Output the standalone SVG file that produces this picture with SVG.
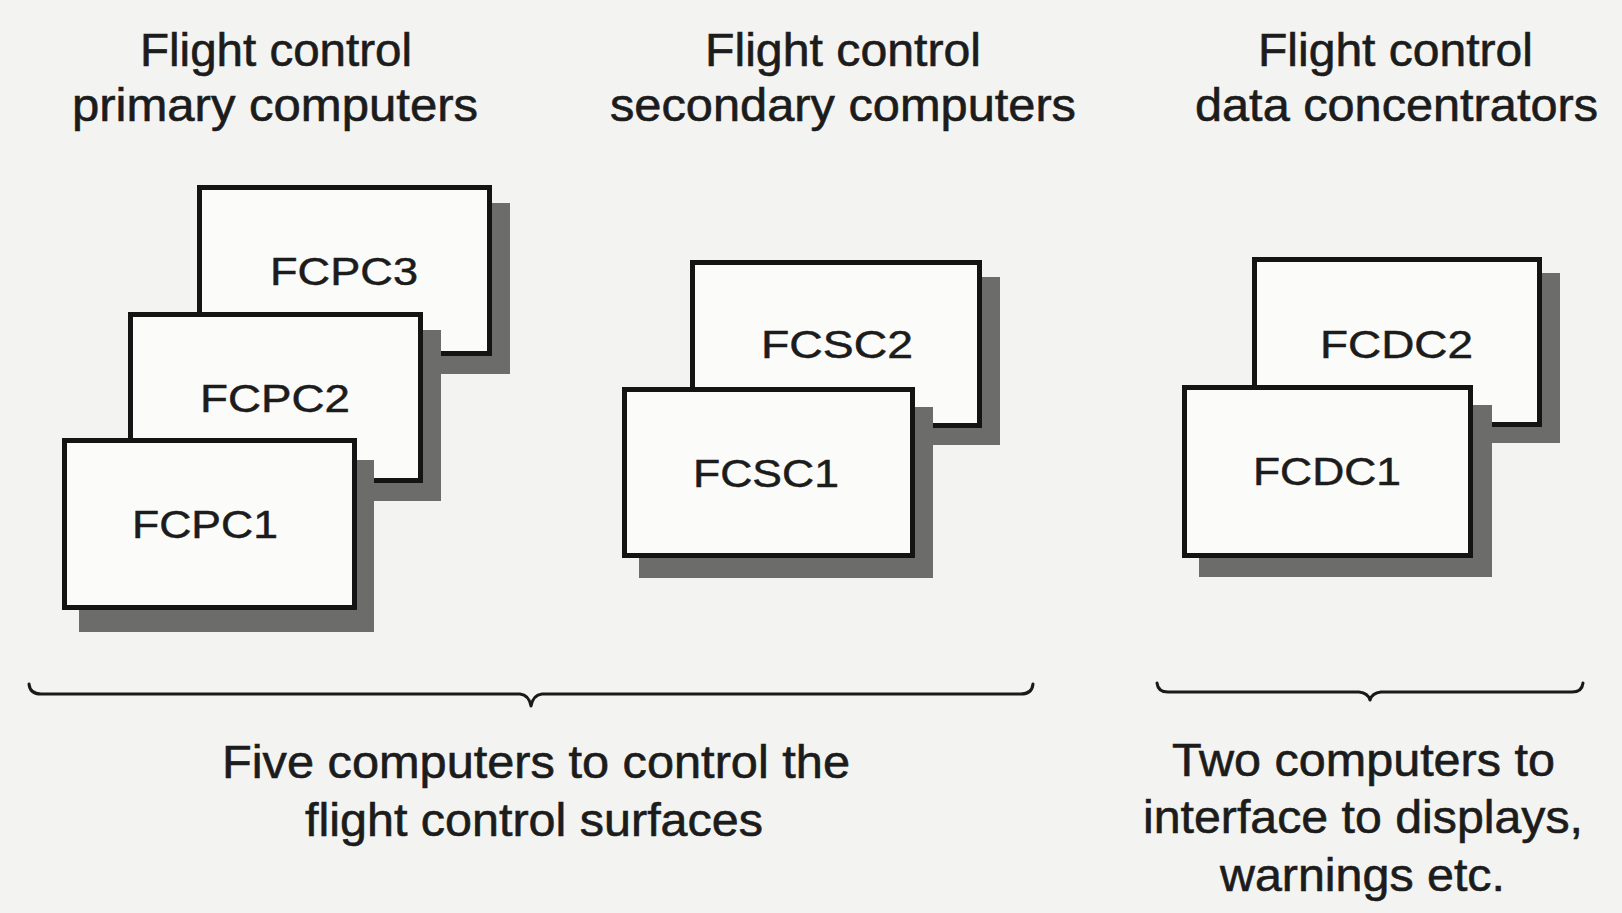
<svg xmlns="http://www.w3.org/2000/svg" width="1622" height="913" viewBox="0 0 1622 913">
<style>
.t{font-family:"Liberation Sans",Arial,sans-serif;fill:#1c1c1c;stroke:#1c1c1c;stroke-width:0.6;font-size:46px;text-anchor:start}
.b{font-family:"Liberation Sans",Arial,sans-serif;fill:#1c1c1c;stroke:#1c1c1c;stroke-width:0.5;font-size:39px}
.box{fill:#fbfbfa;stroke:#141414;stroke-width:5}
.sh{fill:#6c6c6a}
.br{fill:none;stroke:#1a1a1a;stroke-width:3;stroke-linecap:round;stroke-linejoin:round}
</style>
<rect width="1622" height="913" fill="#f3f3f1"/>
<g id="titles">
<text class="t" x="140" y="66" textLength="272" lengthAdjust="spacingAndGlyphs">Flight control</text>
<text class="t" x="72" y="121" textLength="406" lengthAdjust="spacingAndGlyphs">primary computers</text>
<text class="t" x="705" y="66" textLength="276" lengthAdjust="spacingAndGlyphs">Flight control</text>
<text class="t" x="610" y="121" textLength="466" lengthAdjust="spacingAndGlyphs">secondary computers</text>
<text class="t" x="1258" y="66" textLength="275" lengthAdjust="spacingAndGlyphs">Flight control</text>
<text class="t" x="1195" y="121" textLength="403" lengthAdjust="spacingAndGlyphs">data concentrators</text>
</g>
<g id="FCPC3">
<rect class="sh" x="215" y="203" width="295" height="171"/>
<rect class="box" x="199.5" y="187.5" width="290" height="166"/>
<text class="b" x="270" y="285" textLength="148" lengthAdjust="spacingAndGlyphs">FCPC3</text>
</g>
<g id="FCPC2">
<rect class="sh" x="146" y="330" width="295" height="171"/>
<rect class="box" x="130.5" y="314.5" width="290" height="166"/>
<text class="b" x="200" y="412" textLength="150" lengthAdjust="spacingAndGlyphs">FCPC2</text>
</g>
<g id="FCPC1">
<rect class="sh" x="79" y="460" width="295" height="172"/>
<rect class="box" x="64.5" y="440.5" width="290" height="167"/>
<text class="b" x="132" y="538" textLength="146" lengthAdjust="spacingAndGlyphs">FCPC1</text>
</g>
<g id="FCSC2">
<rect class="sh" x="707" y="277" width="293" height="168"/>
<rect class="box" x="692.5" y="262.5" width="287" height="163"/>
<text class="b" x="761" y="358" textLength="152" lengthAdjust="spacingAndGlyphs">FCSC2</text>
</g>
<g id="FCSC1">
<rect class="sh" x="639" y="407" width="294" height="171"/>
<rect class="box" x="624.5" y="389.5" width="288" height="166"/>
<text class="b" x="693" y="487" textLength="146" lengthAdjust="spacingAndGlyphs">FCSC1</text>
</g>
<g id="FCDC2">
<rect class="sh" x="1269" y="273" width="291" height="170"/>
<rect class="box" x="1254.5" y="259.5" width="285" height="165"/>
<text class="b" x="1320" y="358" textLength="153" lengthAdjust="spacingAndGlyphs">FCDC2</text>
</g>
<g id="FCDC1">
<rect class="sh" x="1199" y="405" width="293" height="172"/>
<rect class="box" x="1184.5" y="387.5" width="286" height="168"/>
<text class="b" x="1253" y="485" textLength="148" lengthAdjust="spacingAndGlyphs">FCDC1</text>
</g>
<g id="connectors">
<path class="br" d="M29,684 Q30,694 41,694 L520,694 Q529,695 531,706 Q533,695 542,694 L1021,694 Q1032,694 1033,684"/>
<path class="br" d="M1157,683 Q1158,692 1168,692 L1359,692 Q1368,693 1370,700 Q1372,693 1381,692 L1572,692 Q1582,692 1583,683"/>
</g>
<g id="captions">
<text class="t" x="222" y="778" textLength="628" lengthAdjust="spacingAndGlyphs">Five computers to control the</text>
<text class="t" x="305" y="836" textLength="458" lengthAdjust="spacingAndGlyphs">flight control surfaces</text>
<text class="t" x="1172" y="776" textLength="383" lengthAdjust="spacingAndGlyphs">Two computers to</text>
<text class="t" x="1143" y="833" textLength="440" lengthAdjust="spacingAndGlyphs">interface to displays,</text>
<text class="t" x="1220" y="891" textLength="285" lengthAdjust="spacingAndGlyphs">warnings etc.</text>
</g>
</svg>
